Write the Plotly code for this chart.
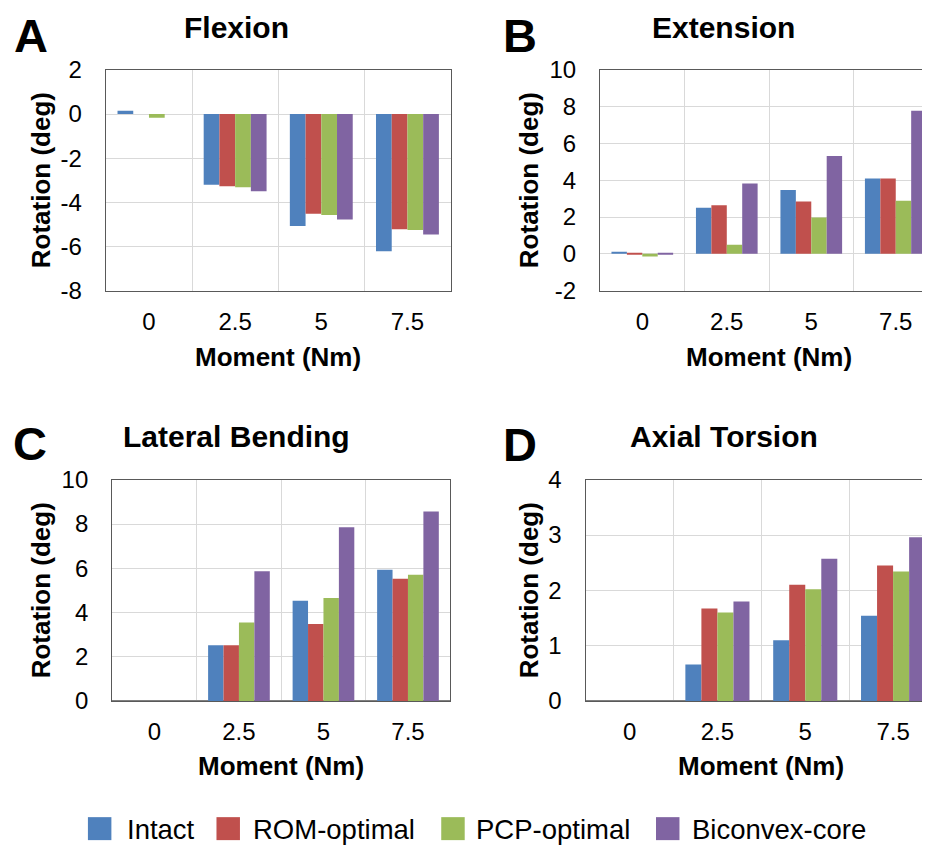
import plotly.graph_objects as go
from plotly.subplots import make_subplots

# data
moments = ["0", "2.5", "5", "7.5"]
series = ["Intact", "ROM-optimal", "PCP-optimal", "Biconvex-core"]
colors = ["#4F81BD", "#C0504D", "#9BBB59", "#8064A2"]

flexion_intact = [0.15, -3.2, -5.07, -6.22]
flexion_rom = [0.0, -3.27, -4.52, -5.22]
flexion_pcp = [-0.17, -3.32, -4.57, -5.25]
flexion_bicon = [0.0, -3.5, -4.78, -5.46]

extension_intact = [0.1, 2.5, 3.47, 4.09]
extension_rom = [-0.05, 2.64, 2.84, 4.09]
extension_pcp = [-0.15, 0.5, 1.97, 2.89]
extension_bicon = [-0.05, 3.82, 5.32, 7.78]

lateral_intact = [0.0, 2.52, 4.53, 5.93]
lateral_rom = [0.0, 2.52, 3.48, 5.53]
lateral_pcp = [0.0, 3.55, 4.65, 5.71]
lateral_bicon = [0.0, 5.86, 7.85, 8.57]

torsion_intact = [0.0, 0.66, 1.10, 1.54]
torsion_rom = [0.0, 1.67, 2.10, 2.45]
torsion_pcp = [0.0, 1.60, 2.02, 2.34]
torsion_bicon = [0.0, 1.80, 2.57, 2.96]

# y tick labels (plain hyphen minus as in the original)
flexion_ticks = [-8, -6, -4, -2, 0, 2]
extension_ticks = [-2, 0, 2, 4, 6, 8, 10]
lateral_ticks = [0, 2, 4, 6, 8, 10]
torsion_ticks = [0, 1, 2, 3, 4]

panels = [
    ("A", "Flexion", [flexion_intact, flexion_rom, flexion_pcp, flexion_bicon], flexion_ticks),
    ("B", "Extension", [extension_intact, extension_rom, extension_pcp, extension_bicon], extension_ticks),
    ("C", "Lateral Bending", [lateral_intact, lateral_rom, lateral_pcp, lateral_bicon], lateral_ticks),
    ("D", "Axial Torsion", [torsion_intact, torsion_rom, torsion_pcp, torsion_bicon], torsion_ticks),
]

W, H = 930, 846
FONT = "Liberation Sans, Arial, sans-serif"

# the page is shown with an offset / slight vertical squeeze, so positions
# measured on the target picture are mapped back before use
OX, OY, SY = 8, 21.1, 0.969


def ix(x):
    return x - OX


def px(x):
    return ix(x) / W


def py(y):
    return 1 - ((y - OY) / SY) / H


# plot boxes measured on the target: left, right, top, bottom
boxes = [
    (106, 451, 69, 290),
    (600.7, 939, 69, 290),
    (112.3, 450.7, 479.3, 700.7),
    (586.3, 938, 479.3, 700.7),
]

fig = make_subplots(rows=2, cols=2)

for i, (letter, title, vals, yticks) in enumerate(panels):
    r, c = i // 2 + 1, i % 2 + 1
    for name, col, v in zip(series, colors, vals):
        fig.add_trace(go.Bar(x=moments, y=v, name=name, marker_color=col,
                             marker_line_width=0, showlegend=False), row=r, col=c)
    l, rr, t, b = boxes[i]
    li, ri = ix(l), ix(rr)
    right_i = min(ri, W)
    xend = -0.5 + 4 * (right_i - li) / (ri - li)
    fig.update_xaxes(domain=[li / W, right_i / W], type="category", range=[-0.5, xend],
                     tickson="boundaries", showgrid=True, gridcolor="#D9D9D9",
                     showline=True, linecolor="#595959", linewidth=1.3, mirror=True,
                     ticks="", ticklabelstandoff=9,
                     tickfont=dict(family=FONT, size=24, color="black"),
                     row=r, col=c)
    zero_dark = yticks[0] == 0
    fig.update_yaxes(domain=[py(b), py(t)], range=[yticks[0], yticks[-1]],
                     tickvals=yticks, ticktext=[str(v) for v in yticks],
                     showgrid=True, gridcolor="#D9D9D9", zeroline=True,
                     zerolinecolor="#7F7F7F" if zero_dark else "#D9D9D9",
                     zerolinewidth=2 if zero_dark else 1,
                     showline=True, linecolor="#595959", linewidth=1.3,
                     mirror=ri <= W,
                     ticks="outside", ticklen=18, tickcolor="rgba(0,0,0,0)",
                     tickfont=dict(family=FONT, size=24, color="black"),
                     row=r, col=c)

annotations = []


def label(text, x, y, size, bold=True, angle=0, xanchor="center"):
    annotations.append(dict(text=text, x=px(x), y=py(y), xref="paper", yref="paper",
                            showarrow=False, textangle=angle, xanchor=xanchor,
                            yanchor="middle",
                            font=dict(family=FONT, size=size, color="black",
                                      weight="bold" if bold else "normal")))


# panel letters, titles and axis titles
letter_pos = [(31.3, 35), (520.2, 35), (30, 443), (520.2, 444)]
title_pos = [(236.3, 27), (724.7, 27), (236.3, 435.7), (725, 435.7)]
xtitle_pos = [(278.5, 356), (769.7, 356), (280.8, 766), (762, 766)]
ytitle_pos = [(41, 179.5), (529.5, 179.5), (41, 590), (529.5, 590)]
for i, (letter, title, _, _) in enumerate(panels):
    label(letter, *letter_pos[i], 47)
    label(title, *title_pos[i], 30)
    label("Moment (Nm)", *xtitle_pos[i], 26)
    label("Rotation (deg)", *ytitle_pos[i], 26, angle=-90)

# legend drawn by hand to get the large square swatches
swatch_x = [88, 216.7, 441.7, 656.7]
text_x = [125, 251.7, 475, 690.7]
shapes = []
for sx, tx, name, col in zip(swatch_x, text_x, series, colors):
    shapes.append(dict(type="rect", xref="paper", yref="paper",
                       x0=px(sx), x1=px(sx + 23.5), y0=py(840), y1=py(817),
                       fillcolor=col, line=dict(width=0)))
    label(name, tx, 829, 27.5, bold=False, xanchor="left")

fig.update_layout(
    width=W, height=H,
    margin=dict(l=0, r=0, t=0, b=0),
    paper_bgcolor="white", plot_bgcolor="white",
    barmode="group", bargap=0.27, bargroupgap=0,
    font=dict(family=FONT, color="black"),
    annotations=annotations, shapes=shapes,
)

fig.write_html("out.html")
